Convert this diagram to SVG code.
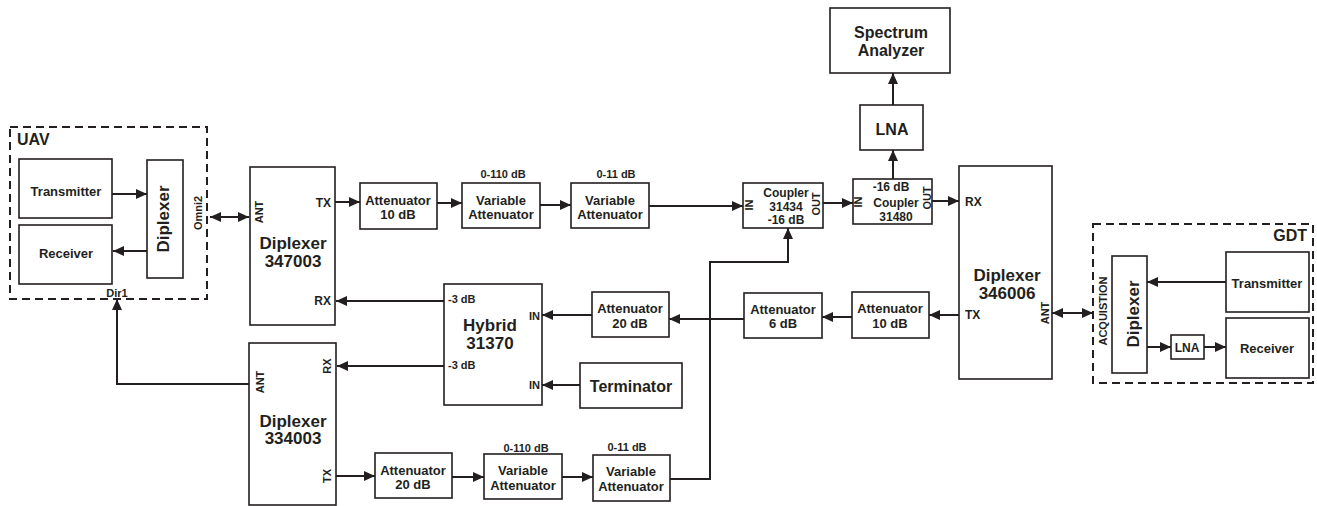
<svg xmlns="http://www.w3.org/2000/svg" width="1317" height="506" viewBox="0 0 1317 506">
<style>
  .box{fill:#fff;stroke:#231f20;stroke-width:1.6}
  .dash{fill:none;stroke:#231f20;stroke-width:2;stroke-dasharray:8,5}
  .ln{fill:none;stroke:#231f20;stroke-width:2}
  .arr{marker-end:url(#ah)}
  .dbl{marker-end:url(#ah);marker-start:url(#ahs)}
  text{font-family:"Liberation Sans",Arial,sans-serif;font-weight:bold;fill:#231f20}
  .c{text-anchor:middle}
  .e{text-anchor:end}
  .f17{font-size:17px}
  .f16{font-size:16px}
  .f13{font-size:13px}
  .f12{font-size:12px}
  .f11{font-size:11px}
</style>
<defs>
  <marker id="ah" markerUnits="userSpaceOnUse" markerWidth="12" markerHeight="10" refX="11" refY="5" orient="auto">
    <path d="M0,0 L11,5 L0,10 z" fill="#231f20"/>
  </marker>
  <marker id="ahs" markerUnits="userSpaceOnUse" markerWidth="12" markerHeight="10" refX="11" refY="5" orient="auto-start-reverse">
    <path d="M0,0 L11,5 L0,10 z" fill="#231f20"/>
  </marker>
</defs>
<rect width="1317" height="506" fill="#fff"/>

<g id="connectors">
  <line class="ln arr" x1="112" y1="194" x2="147" y2="194"/>
  <line class="ln arr" x1="147" y1="251" x2="113" y2="251"/>
  <line class="ln dbl" x1="210" y1="217" x2="249" y2="217"/>
  <line class="ln arr" x1="335" y1="202" x2="360" y2="202"/>
  <line class="ln arr" x1="437" y1="203" x2="462" y2="203"/>
  <line class="ln arr" x1="540" y1="205" x2="571" y2="205"/>
  <line class="ln arr" x1="649" y1="206" x2="743" y2="206"/>
  <line class="ln arr" x1="823" y1="203" x2="853" y2="203"/>
  <line class="ln arr" x1="932" y1="201" x2="959" y2="201"/>
  <line class="ln arr" x1="893" y1="179" x2="893" y2="150"/>
  <line class="ln arr" x1="893" y1="105" x2="893" y2="73"/>
  <line class="ln arr" x1="959" y1="315" x2="929" y2="315"/>
  <line class="ln arr" x1="852" y1="317" x2="822" y2="317"/>
  <line class="ln arr" x1="744" y1="319" x2="669" y2="319"/>
  <line class="ln arr" x1="592" y1="315" x2="542" y2="315"/>
  <line class="ln arr" x1="580" y1="385" x2="542" y2="385"/>
  <line class="ln arr" x1="444" y1="301" x2="336" y2="301"/>
  <line class="ln arr" x1="444" y1="366" x2="337" y2="366"/>
  <path class="ln arr" d="M249,384 H117 V299"/>
  <line class="ln arr" x1="336" y1="476" x2="375" y2="476"/>
  <line class="ln arr" x1="452" y1="477" x2="484" y2="477"/>
  <line class="ln arr" x1="562" y1="477" x2="593" y2="477"/>
  <path class="ln arr" d="M670,479 H710 V262 H788 V228"/>
  <line class="ln dbl" x1="1052" y1="313" x2="1093" y2="313"/>
  <line class="ln arr" x1="1226" y1="282" x2="1147" y2="282"/>
  <line class="ln arr" x1="1147" y1="347" x2="1171" y2="347"/>
  <line class="ln arr" x1="1204" y1="347" x2="1226" y2="347"/>
</g>

<g id="uav">
  <rect class="dash" x="10" y="127" width="197" height="172"/>
  <text class="f16" x="17" y="145">UAV</text>
  <text class="f11 c" x="117" y="297">Dir1</text>
  <text class="f11 c" transform="translate(202,213) rotate(-90)">Omni2</text>
</g>
<g id="uav-transmitter">
  <rect class="box" x="19" y="159" width="93" height="59"/>
  <text class="f13 c" x="66" y="196">Transmitter</text>
</g>
<g id="uav-receiver">
  <rect class="box" x="19" y="225" width="93" height="59"/>
  <text class="f13 c" x="66" y="258">Receiver</text>
</g>
<g id="uav-diplexer">
  <rect class="box" x="147" y="160" width="36" height="118"/>
  <text class="f17 c" transform="translate(169,219) rotate(-90)">Diplexer</text>
</g>

<g id="diplexer-347003">
  <rect class="box" x="250" y="167" width="85" height="158"/>
  <text class="f11 c" transform="translate(263,212) rotate(-90)">ANT</text>
  <text class="f12 e" x="331" y="207">TX</text>
  <text class="f12 e" x="331" y="305">RX</text>
  <text class="f17 c" x="293" y="249">Diplexer</text>
  <text class="f17 c" x="293" y="267">347003</text>
</g>

<g id="att-10-top">
  <rect class="box" x="360" y="183" width="77" height="46"/>
  <text class="f13 c" x="398" y="205">Attenuator</text>
  <text class="f13 c" x="398" y="219">10 dB</text>
</g>
<g id="var-att-110-top">
  <rect class="box" x="462" y="183" width="78" height="45"/>
  <text class="f11 c" x="503" y="178">0-110 dB</text>
  <text class="f13 c" x="501" y="205">Variable</text>
  <text class="f13 c" x="501" y="219">Attenuator</text>
</g>
<g id="var-att-11-top">
  <rect class="box" x="571" y="183" width="78" height="45"/>
  <text class="f11 c" x="616" y="178">0-11 dB</text>
  <text class="f13 c" x="610" y="205">Variable</text>
  <text class="f13 c" x="610" y="219">Attenuator</text>
</g>

<g id="coupler-31434">
  <rect class="box" x="743" y="183" width="80" height="45"/>
  <text class="f11 c" transform="translate(753,205) rotate(-90)">IN</text>
  <text class="f11 c" transform="translate(820,204) rotate(-90)">OUT</text>
  <text class="f12 c" x="786" y="197">Coupler</text>
  <text class="f12 c" x="786" y="211">31434</text>
  <text class="f12 c" x="786" y="224">-16 dB</text>
</g>
<g id="coupler-31480">
  <rect class="box" x="853" y="179" width="79" height="45"/>
  <text class="f11 c" transform="translate(862,202) rotate(-90)">IN</text>
  <text class="f11 c" transform="translate(931,198) rotate(-90)">OUT</text>
  <text class="f12 c" x="891" y="191">-16 dB</text>
  <text class="f12 c" x="896" y="207">Coupler</text>
  <text class="f12 c" x="896" y="221">31480</text>
</g>

<g id="lna">
  <rect class="box" x="860" y="105" width="63" height="45"/>
  <text class="f16 c" x="892" y="135">LNA</text>
</g>
<g id="spectrum-analyzer">
  <rect class="box" x="830" y="8" width="120" height="65"/>
  <text class="f16 c" x="891" y="38">Spectrum</text>
  <text class="f16 c" x="891" y="56">Analyzer</text>
</g>

<g id="diplexer-346006">
  <rect class="box" x="959" y="166" width="93" height="213"/>
  <text class="f12" x="965" y="206">RX</text>
  <text class="f12" x="965" y="319">TX</text>
  <text class="f11 c" transform="translate(1049,313) rotate(-90)">ANT</text>
  <text class="f17 c" x="1007" y="281">Diplexer</text>
  <text class="f17 c" x="1007" y="299">346006</text>
</g>

<g id="att-10-mid">
  <rect class="box" x="852" y="292" width="77" height="46"/>
  <text class="f13 c" x="890" y="313">Attenuator</text>
  <text class="f13 c" x="890" y="328">10 dB</text>
</g>
<g id="att-6">
  <rect class="box" x="744" y="293" width="78" height="45"/>
  <text class="f13 c" x="783" y="314">Attenuator</text>
  <text class="f13 c" x="783" y="328">6 dB</text>
</g>
<g id="att-20-mid">
  <rect class="box" x="592" y="292" width="77" height="45"/>
  <text class="f13 c" x="630" y="313">Attenuator</text>
  <text class="f13 c" x="630" y="328">20 dB</text>
</g>
<g id="terminator">
  <rect class="box" x="580" y="363" width="102" height="45"/>
  <text class="f16 c" x="631" y="392">Terminator</text>
</g>

<g id="hybrid-31370">
  <rect class="box" x="444" y="284" width="98" height="121"/>
  <text class="f11" x="448" y="303">-3 dB</text>
  <text class="f11" x="448" y="369">-3 dB</text>
  <text class="f11 e" x="540" y="320">IN</text>
  <text class="f11 e" x="540" y="389">IN</text>
  <text class="f17 c" x="490" y="331">Hybrid</text>
  <text class="f17 c" x="490" y="349">31370</text>
</g>

<g id="diplexer-334003">
  <rect class="box" x="249" y="343" width="87" height="162"/>
  <text class="f11 c" transform="translate(264,382) rotate(-90)">ANT</text>
  <text class="f11 c" transform="translate(331,366) rotate(-90)">RX</text>
  <text class="f11 c" transform="translate(331,476) rotate(-90)">TX</text>
  <text class="f17 c" x="293" y="427">Diplexer</text>
  <text class="f17 c" x="293" y="444">334003</text>
</g>

<g id="att-20-bottom">
  <rect class="box" x="375" y="453" width="77" height="45"/>
  <text class="f13 c" x="413" y="475">Attenuator</text>
  <text class="f13 c" x="413" y="489">20 dB</text>
</g>
<g id="var-att-110-bottom">
  <rect class="box" x="484" y="454" width="78" height="45"/>
  <text class="f11 c" x="526" y="452">0-110 dB</text>
  <text class="f13 c" x="523" y="475">Variable</text>
  <text class="f13 c" x="523" y="490">Attenuator</text>
</g>
<g id="var-att-11-bottom">
  <rect class="box" x="593" y="455" width="77" height="46"/>
  <text class="f11 c" x="627" y="451">0-11 dB</text>
  <text class="f13 c" x="631" y="476">Variable</text>
  <text class="f13 c" x="631" y="491">Attenuator</text>
</g>

<g id="gdt">
  <rect class="dash" x="1093" y="224" width="220" height="159"/>
  <text class="f16 e" x="1307" y="241">GDT</text>
  <text class="f11 c" transform="translate(1107,311) rotate(-90)">ACQUISTION</text>
</g>
<g id="gdt-diplexer">
  <rect class="box" x="1112" y="256" width="35" height="117"/>
  <text class="f17 c" transform="translate(1139,314) rotate(-90)">Diplexer</text>
</g>
<g id="gdt-transmitter">
  <rect class="box" x="1226" y="252" width="83" height="60"/>
  <text class="f13 c" x="1267" y="288">Transmitter</text>
</g>
<g id="gdt-receiver">
  <rect class="box" x="1226" y="318" width="83" height="60"/>
  <text class="f13 c" x="1267" y="353">Receiver</text>
</g>
<g id="gdt-lna">
  <rect class="box" x="1171" y="335" width="33" height="24"/>
  <text class="f12 c" x="1187" y="352">LNA</text>
</g>
</svg>
